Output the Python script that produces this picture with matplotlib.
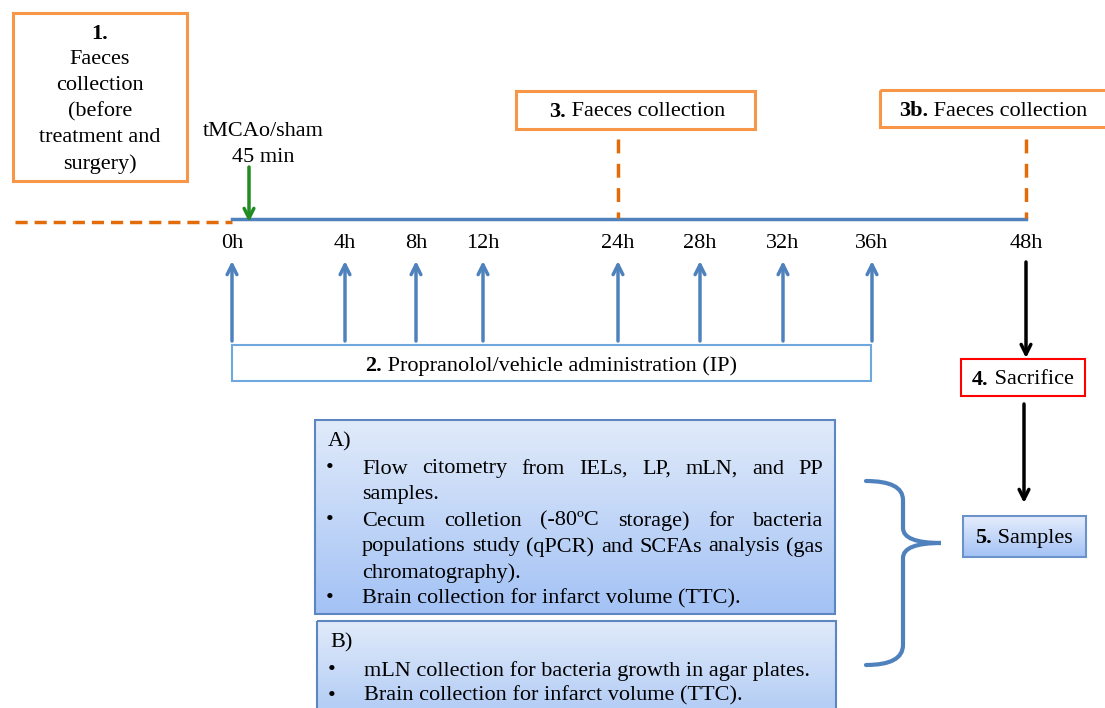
import numpy as np
import matplotlib.pyplot as plt
from matplotlib.patches import Rectangle, PathPatch
from matplotlib.path import Path

# timeline labels and times
hour_labels = ["0h", "4h", "8h", "12h", "24h", "28h", "32h", "36h", "48h"]
dose_labels = ["0h", "4h", "8h", "12h", "24h", "28h", "32h", "36h"]
collect_labels = ["24h", "48h"]

box1_lines = ["Faeces", "collection", "(before", "treatment and", "surgery)"]
surgery_lines = ["tMCAo/sham", "45 min"]
step2 = ("2.", "Propranolol/vehicle administration (IP)")
step3 = ("3.", "Faeces collection")
step3b = ("3b.", "Faeces collection")
step4 = ("4.", "Sacrifice")
step5 = ("5.", "Samples")

# (line, justified?)
box_a_items = [
    [("Flow citometry from IELs, LP, mLN, and PP", True), ("samples.", False)],
    [("Cecum colletion (-80ºC storage) for bacteria", True),
     ("populations study (qPCR) and SCFAs analysis (gas", True),
     ("chromatography).", False)],
    [("Brain collection for infarct volume (TTC).", False)],
]
box_b_items = ["mLN collection for bacteria growth in agar plates.",
               "Brain collection for infarct volume (TTC)."]

# layout (pixel positions on the canvas)
hour_x = {"0h": 232, "4h": 345, "8h": 416, "12h": 483, "24h": 618,
          "28h": 700, "32h": 783, "36h": 872, "48h": 1026}

FONT = "Liberation Serif"
FS = 16
ORANGE = "#F79646"
DORANGE = "#E36C0A"
BLUE = "#4F81BD"

fig = plt.figure(figsize=(11.05, 7.08), dpi=100)
ax = fig.add_axes([0, 0, 1, 1])
renderer = fig.canvas.get_renderer()


def txt(x, y, s, **kw):
    kw.setdefault("fontsize", FS)
    kw.setdefault("family", FONT)
    kw.setdefault("va", "center")
    return ax.text(x, y + 2, s, **kw)


def width(t):
    return t.get_window_extent(renderer).width


def bold_label(x, y, bold, rest):
    t1 = txt(0, y, bold, weight="bold", ha="left")
    t2 = txt(0, y, " " + rest, ha="left")
    w1, w2 = width(t1), width(t2)
    x0 = x - (w1 + w2) / 2
    t1.set_x(x0)
    t2.set_x(x0 + w1)


def justify(x0, x1, y, line):
    words = line.split(" ")
    ts = [txt(0, y, w, ha="left") for w in words]
    ws = [width(t) for t in ts]
    gap = (x1 - x0 - sum(ws)) / (len(words) - 1)
    x = x0
    for t, w in zip(ts, ws):
        t.set_x(x)
        x += w + gap


def box(x0, y0, x1, y1, ec, lw=2, fc="none", grad=None, z=2):
    if grad is not None:
        g = np.linspace(0, 1, 100)[:, None, None]
        c0, c1 = np.array(grad[0]), np.array(grad[1])
        img = np.repeat(c0 + (c1 - c0) * g, 2, axis=1)
        ax.imshow(img, extent=(x0, x1, y1, y0), aspect="auto", zorder=z - 0.5)
    ax.add_patch(Rectangle((x0, y0), x1 - x0, y1 - y0, fc=fc, ec=ec, lw=lw, zorder=z))


def arrow(x, y_from, y_to, color, lw=2.5):
    ax.annotate("", xy=(x, y_to), xytext=(x, y_from),
                arrowprops=dict(arrowstyle="->,head_length=0.7,head_width=0.35",
                                color=color, lw=lw, shrinkA=0, shrinkB=0))


# step 1 box
box(13, 13, 187, 181, ORANGE, lw=2.2)
txt(100, 32, "1.", weight="bold", ha="center")
for i, s in enumerate(box1_lines):
    txt(100, 58 + 26 * i, s, ha="center")

# surgery
for i, s in enumerate(surgery_lines):
    txt(263, 130 + 25 * i, s, ha="center")
arrow(249, 167, 222, "#228B22")

# timeline
ax.plot([15, hour_x["0h"]], [222, 222], ls=(0, (3.5, 2)), color=DORANGE, lw=2.5)
ax.plot([hour_x["0h"], hour_x["48h"]], [219, 219], color=BLUE, lw=2.5)
for h in hour_labels:
    txt(hour_x[h], 242, h, ha="center")

# dosing arrows and box 2
for h in dose_labels:
    arrow(hour_x[h], 341, 261, BLUE)
box(232, 345, 871, 381, "#6FA8DC", lw=1.5)
bold_label(551, 364, *step2)

# faeces collection boxes and dashed markers
box(516, 91, 755, 129, ORANGE, lw=2.2)
bold_label(637, 110, *step3)
box(880, 90, 1110, 127, ORANGE, lw=2.2)
bold_label(993, 109, *step3b)
for h in collect_labels:
    ax.plot([hour_x[h], hour_x[h]], [139, 218], ls=(0, (4, 3)), color=DORANGE, lw=2.5)

# sacrifice and samples
arrow(1026, 262, 358, "black")
box(961, 359, 1085, 396, "#FF0000", lw=1.5, fc="white")
bold_label(1023, 378, *step4)
arrow(1024, 404, 503, "black")
box(963, 516, 1086, 557, "#6B93C9", lw=1.5, grad=((0.90, 0.93, 0.99), (0.64, 0.76, 0.96)))
bold_label(1024, 536, *step5)

# box A
box(315, 420, 835, 614, "#5B86C0", lw=1.5, grad=((0.88, 0.92, 0.98), (0.64, 0.76, 0.96)))
txt(328, 440, "A)", ha="left")
y = 467
for item in box_a_items:
    txt(330, y, "•", ha="center")
    for line, just in item:
        if just:
            justify(362, 823, y, line)
        else:
            txt(362, y, line, ha="left")
        y += 26

# box B
box(317, 621, 836, 712, "#5B86C0", lw=1.5, grad=((0.88, 0.92, 0.98), (0.70, 0.80, 0.96)))
txt(330, 641, "B)", ha="left")
for i, line in enumerate(box_b_items):
    txt(332, 669 + 25 * i, "•", ha="center")
    txt(364, 669 + 25 * i, line, ha="left")

# brace joining A and B to samples
verts = [(866, 481), (903, 481), (903, 500), (903, 528), (903, 543), (941, 543),
         (903, 543), (903, 558), (903, 645), (903, 665), (866, 665)]
codes = [Path.MOVETO, Path.CURVE3, Path.CURVE3, Path.LINETO, Path.CURVE3, Path.CURVE3,
         Path.CURVE3, Path.CURVE3, Path.LINETO, Path.CURVE3, Path.CURVE3]
ax.add_patch(PathPatch(Path(verts, codes), fc="none", ec=BLUE, lw=3,
                       capstyle="round", joinstyle="miter"))

ax.set_xlim(0, 1105)
ax.set_ylim(708, 0)
ax.axis("off")
fig.savefig("out.png", dpi=100)
